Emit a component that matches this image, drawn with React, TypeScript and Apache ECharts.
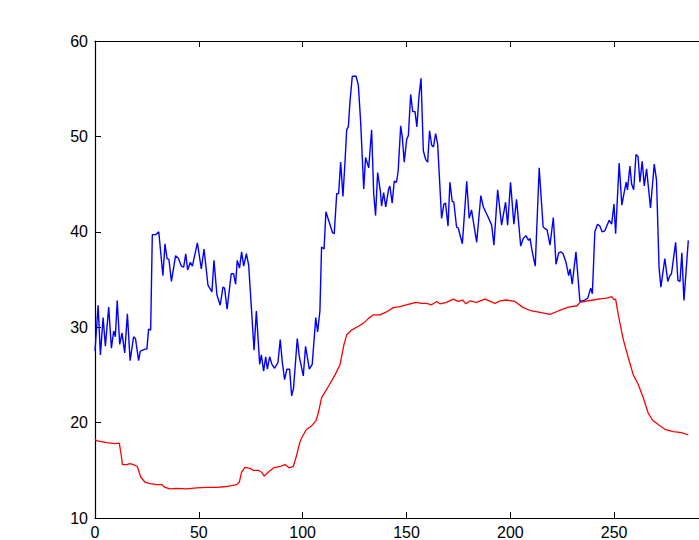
import React, { useEffect, useRef } from "react";
import * as echarts from "echarts";

const xTicks = { min: 0, max: 300, interval: 50 };
const yTicks = { min: 10, max: 60, interval: 10 };

const bluePoints: [number, number][] = [
  [0, 27.5], [1.5, 32.3], [2.6, 27.1], [3.9, 31], [5, 28], [6.6, 32.1], [7.9, 27.8], [9, 29.6], [9.8, 29],
  [10.7, 32.8], [11.9, 28.2], [13, 29.4], [14.3, 27.3], [15.6, 31.4], [16.9, 26.5], [18.6, 29], [19.5, 28.8],
  [21, 26.5], [21.8, 27.5], [24.2, 27.7], [25, 27.7], [25.8, 29.8], [26.8, 29.7], [27.6, 39.7], [29.2, 39.7],
  [30.7, 40.0], [32.7, 35.4], [33.7, 38.75], [34.7, 37.2], [35.6, 37.1], [36.8, 34.8], [38.8, 37.5], [40.2, 37.2],
  [41.6, 36.4], [42.7, 36.3], [43.7, 37.7], [44.6, 36], [45.9, 36.8], [46.9, 36.4], [49.3, 38.85], [51.2, 36.1],
  [52.5, 38.2], [54.4, 34.4], [56.3, 33.7], [57.3, 37], [58.7, 33.4], [60.3, 32.3], [61.6, 34.2], [62.4, 34.1],
  [63.6, 31.9], [65.6, 35.6], [66.8, 35.6], [67.7, 34.5], [68.5, 37], [69.6, 36.2], [70.6, 37.9], [71.6, 36.4],
  [72.9, 37.7], [74, 36.5], [76.6, 27.6], [77.7, 31.7], [79.3, 26.1], [80.1, 27.1], [81.2, 25.4], [82.2, 26.9],
  [83, 25.6], [84.1, 26.9], [85.2, 26.1], [86.5, 25.7], [88.1, 26.3], [89.2, 28.7], [90.2, 26.3], [91.3, 24.5],
  [92.4, 25.6], [93.7, 25.6], [94.7, 22.8], [95.6, 23.6], [97.4, 28.8], [98.4, 26.9], [100.3, 24.9], [101.4, 28],
  [103.2, 25.6], [104.6, 26.1], [106.3, 31], [107.2, 29.5], [108.3, 31.7], [109.1, 38.4], [110.3, 38.2],
  [111.2, 42.1], [113.1, 40.8], [114.4, 39.9], [115.2, 39.8], [116.4, 44], [117.3, 44], [118.3, 47.3],
  [119.4, 43.7], [120.4, 47.4], [121.2, 50.7], [122, 51], [122.8, 53.7], [123.9, 56.3], [125.7, 56.3],
  [126.8, 55.4], [127.9, 51.6], [129.4, 44.5], [130.3, 47.8], [131.8, 46.7], [133.2, 50.7], [134.2, 44],
  [135.1, 41.7], [136.1, 46.2], [137.4, 44.3], [138, 42.7], [139, 44.1], [140, 42.6], [141.4, 44.5], [142, 44.8],
  [143.1, 43], [144.1, 45.3], [145.2, 45.2], [146, 46.4], [147.2, 51.1], [148, 49.9], [148.9, 47.3], [150.1, 49.7],
  [150.9, 50.1], [152, 54.4], [153, 52.6], [154.1, 52.6], [155, 51], [156, 54.2], [157, 56.1], [158.1, 48.5],
  [159.2, 47.6], [160.2, 47.3], [161.1, 50.6], [162.1, 49.1], [163, 48.9], [164, 50.3], [165, 49.2], [166.9, 41.4],
  [168, 42.9], [168.8, 43], [170, 40.6], [170.9, 45.2], [172, 43.2], [172.8, 43.1], [174.1, 40.5], [174.9, 40.4],
  [176.9, 38.75], [179, 45.3], [180.2, 41.4], [181.3, 42.3], [183.8, 38.9], [185.8, 43.8], [187, 42.6],
  [189.4, 41.5], [191, 40.7], [192.1, 38.6], [193.9, 44.4], [195.8, 40.7], [197.7, 43.1], [198.7, 40.7],
  [200.1, 45.2], [201.7, 40.8], [203, 43.4], [205, 38.5], [206.2, 39.3], [207.5, 39.6], [208.8, 39.1],
  [209.5, 39.3], [210.3, 38.2], [212, 36.4], [213.9, 46.7], [215.8, 40.5], [216.9, 40.3], [217.7, 40.2],
  [219.1, 38.6], [220.7, 41.5], [222, 36.6], [223.3, 37.8], [224.3, 37.9], [225.4, 37.7], [226.8, 36.8],
  [228.1, 35.4], [228.8, 36.1], [229.8, 34.5], [231.6, 37.9], [233.5, 32.7], [235.5, 32.8], [237.3, 33.05],
  [238.7, 34.1], [239.5, 33.5], [240.7, 40], [242, 40.8], [243.1, 40.6], [244.2, 40], [245.5, 40.1],
  [247.6, 41.2], [248.8, 40.8], [249.9, 42.9], [250.7, 39.8], [252.4, 47.2], [253.7, 42.8], [254.8, 44.1],
  [255.8, 45.2], [256.4, 44.4], [257.6, 46.9], [258.4, 45], [259.4, 44.4], [260.5, 48.1], [261.5, 47.9],
  [262.4, 45.2], [263.5, 47.4], [264.5, 44.8], [265.6, 46.6], [267.5, 42.5], [269.3, 47.1], [270.4, 45.4],
  [271.6, 36.3], [272.5, 34.2], [274.4, 37.2], [275.8, 34.8], [276.8, 35.4], [277.6, 35.6], [279.6, 38.9],
  [280.7, 34.9], [281.7, 34.8], [282.6, 37.8], [283.6, 32.8], [285.7, 39.1],
];

const redPoints: [number, number][] = [
  [0, 18.3], [0.6, 18.1], [5.6, 17.9], [9.6, 17.8], [11.7, 17.85], [12.7, 16.5], [13.2, 15.6], [15.2, 15.6],
  [16.9, 15.7], [18.5, 15.6], [20.4, 15.4], [22, 14.3], [24.1, 13.75], [26.5, 13.6], [29.7, 13.5], [32.1, 13.5],
  [33.7, 13.2], [36.1, 13.05], [39.3, 13.1], [44.1, 13.05], [49, 13.15], [53.8, 13.2], [58.6, 13.2], [63.4, 13.3],
  [68.2, 13.5], [69.5, 13.75], [70.6, 14.8], [72.2, 15.3], [74.6, 15.2], [76.2, 15.0], [78.6, 15.0], [80.2, 14.8],
  [81.5, 14.4], [83.4, 14.8], [85.9, 15.25], [89.1, 15.4], [91.5, 15.6], [93.6, 15.25], [95.5, 15.4], [97, 16.5],
  [98.7, 18.0], [100, 18.6], [101.9, 19.3], [104.3, 19.65], [106.4, 20.2], [107.5, 21], [109.1, 22.6],
  [111.6, 23.5], [115.6, 25], [118, 26.1], [119.9, 28.2], [121.2, 29.2], [123.6, 29.7], [126.8, 30.1],
  [129.2, 30.4], [131.6, 30.9], [134, 31.3], [137.2, 31.3], [140.4, 31.6], [143.6, 32.05], [146.8, 32.15],
  [150.8, 32.4], [154.5, 32.6], [157.3, 32.5], [159.7, 32.5], [162.1, 32.35], [164.5, 32.7], [166.1, 32.45],
  [169.3, 32.6], [172.5, 32.95], [174.9, 32.7], [177, 32.85], [178.6, 32.45], [180.5, 32.75], [183.7, 32.6],
  [187.8, 32.95], [192.6, 32.5], [195, 32.75], [198.2, 32.85], [202.2, 32.7], [206.2, 32.05], [210.3, 31.7],
  [214.3, 31.56], [219.1, 31.35], [223.1, 31.7], [227.9, 32.1], [232.2, 32.25], [233.5, 32.6], [235.9, 32.7],
  [239.9, 32.85], [244, 33.0], [246.4, 33.05], [248.8, 33.2], [249.9, 32.9], [250.7, 32.95], [252, 31.3],
  [254.4, 28.7], [256.8, 26.8], [259.2, 25.0], [261.6, 24.0], [264, 22.6], [266.4, 21.0], [268.5, 20.25],
  [271.2, 19.8], [274.4, 19.3], [278.4, 19.06], [282.5, 18.95], [285.7, 18.7],
];

const FONT = "'Liberation Sans', Arial, sans-serif";

export default function App() {
  const ref = useRef<HTMLDivElement>(null);
  useEffect(() => {
    if (!ref.current) return;
    const chart = echarts.init(ref.current, undefined, { renderer: "svg" });
    const axisLine = { show: true, onZero: false, lineStyle: { color: "#000", width: 1.2 } };
    const tick = { show: true, inside: true, length: 6, lineStyle: { color: "#000", width: 1 } };
    chart.setOption({
      animation: false,
      backgroundColor: "#fff",
      grid: { left: 95, top: 41, width: 623, height: 480, containLabel: false },
      xAxis: [
        {
          type: "value", position: "bottom", ...xTicks,
          axisLine, axisTick: tick, splitLine: { show: false },
          axisLabel: { color: "#000", fontSize: 16, fontFamily: FONT, margin: 6, showMaxLabel: false },
        },
        {
          type: "value", position: "top", ...xTicks,
          axisLine, axisTick: tick, splitLine: { show: false }, axisLabel: { show: false },
        },
      ],
      yAxis: [
        {
          type: "value", position: "left", ...yTicks,
          axisLine, axisTick: tick, splitLine: { show: false },
          axisLabel: { color: "#000", fontSize: 16, fontFamily: FONT, margin: 7 },
        },
        {
          type: "value", position: "right", ...yTicks,
          axisLine, axisTick: tick, splitLine: { show: false }, axisLabel: { show: false },
        },
      ],
      series: [
        {
          type: "line", data: bluePoints, showSymbol: false, symbol: "none",
          lineStyle: { color: "#0000ff", width: 1.4 }, itemStyle: { color: "#0000ff" },
        },
        {
          type: "line", data: redPoints, showSymbol: false, symbol: "none",
          lineStyle: { color: "#ff0000", width: 1.3 }, itemStyle: { color: "#ff0000" },
        },
      ],
    });
    return () => chart.dispose();
  }, []);
  return (
    <div style={{ position: "absolute", left: 0, top: 0, width: 699, height: 540, overflow: "hidden", background: "#fff" }}>
      <div ref={ref} style={{ width: 760, height: 540 }} />
    </div>
  );
}
